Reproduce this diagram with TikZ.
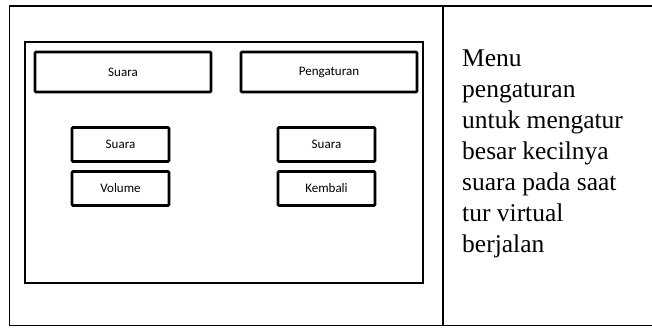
\documentclass[tikz,border=0pt]{standalone}
\usepackage{fontspec}
\setmainfont{Liberation Serif}
\newfontfamily\boxfont{Carlito}
\begin{document}
\begin{tikzpicture}[x=1pt,y=-1pt,
  tableline/.style={line width=1.3pt},
  frameline/.style={line width=2pt},
  uibox/.style={draw, line width=2.8pt, rounded corners=1pt, inner sep=0pt,
     font=\boxfont\fontsize{13}{15}\selectfont}]
\useasboundingbox (0,0) rectangle (652,327);
% table
\draw[tableline] (9.5,6) rectangle (653.5,325.5);
\coordinate (dtop) at (443,6);
\coordinate (dbot) at (443,325.5);
\draw[tableline] (dtop) -- (dbot);
% screen frame
\node[draw, frameline, minimum width=398pt, minimum height=241pt, inner sep=0pt] (frame) at (224,162.5) {};
% buttons
\node[uibox, minimum width=176pt, minimum height=40pt] (suara1) at (123,72) {Suara};
\node[uibox, minimum width=176pt, minimum height=40pt] (peng) at (329,72) {Pengaturan};
\node[uibox, minimum width=97pt, minimum height=34pt] (suara2) at (120.5,144.5) {Suara};
\node[uibox, minimum width=97pt, minimum height=34pt] (vol) at (120.5,188.5) {Volume};
\node[uibox, minimum width=97pt, minimum height=34pt] (suara3) at (326.5,144.5) {Suara};
\node[uibox, minimum width=97pt, minimum height=34pt] (kemb) at (326.5,188.5) {Kembali};
% description
\node[anchor=base west, align=left, inner sep=0pt, font=\fontsize{25.5}{31}\selectfont] (desc) at (462,252.5)
  {Menu\\pengaturan\\untuk mengatur\\besar kecilnya\\suara pada saat\\tur virtual\\berjalan};
\end{tikzpicture}
\end{document}
